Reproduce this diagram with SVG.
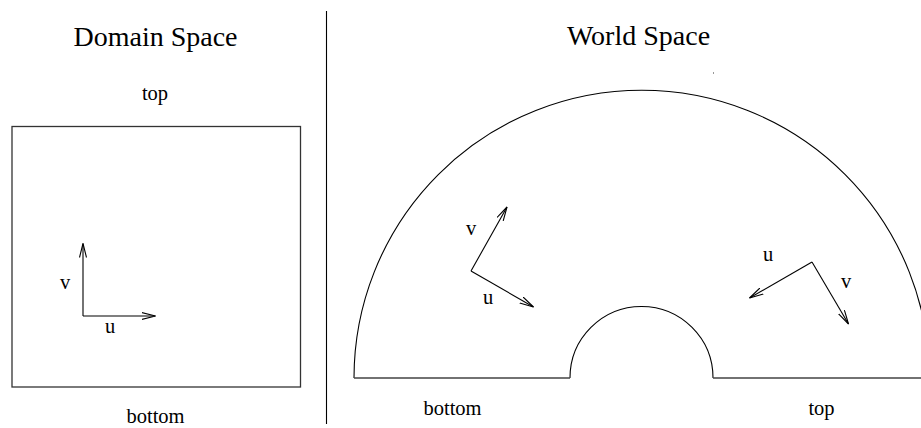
<svg xmlns="http://www.w3.org/2000/svg" width="921" height="428" viewBox="0 0 921 428">
<defs>
<style>
.ln{fill:none;stroke:#000;stroke-width:1.1}
.box{fill:none;stroke:#333;stroke-width:1.3}
.base{fill:none;stroke:#444;stroke-width:1.5}
.ar{fill:none;stroke:#000;stroke-width:1.1;marker-end:url(#ah)}
text{font-family:'Liberation Serif','Times New Roman',serif;fill:#000}
.title{font-size:28px;text-anchor:middle}
.lab{font-size:20.5px}
.mid{text-anchor:middle}
</style>
<marker id="ah" viewBox="0 0 15 8" refX="14" refY="4" markerWidth="15" markerHeight="8" markerUnits="userSpaceOnUse" orient="auto">
<path d="M0,0.5 L14,4 L0,7.5" fill="none" stroke="#000" stroke-width="1.1"/>
</marker>
</defs>
<g id="divider"><line class="ln" x1="326.5" y1="11" x2="326.5" y2="424"/></g>
<g id="domain">
<text class="title" x="155.5" y="46">Domain Space</text>
<text class="lab mid" x="155" y="100">top</text>
<rect class="box" x="12" y="126.5" width="288.5" height="260.5"/>
<text class="lab mid" x="155.5" y="423">bottom</text>
</g>
<g id="world">
<text class="title" x="638.5" y="45">World Space</text>
<path class="ln" d="M354,378 A287.5 287.5 0 0 1 929.5,378"/>
<path class="ln" d="M570,378 A71.5 71.5 0 0 1 713,378"/>
<path class="base" d="M354,378 H570 M713,378 H921"/>
<text class="lab mid" x="452.5" y="415">bottom</text>
<text class="lab mid" x="821.5" y="415">top</text>
<rect x="713" y="72" width="1" height="2" fill="#999"/>
</g>
<g id="connectors">
<line class="ar" x1="83" y1="316" x2="83" y2="243.5"/>
<line class="ar" x1="83" y1="316" x2="155.5" y2="316"/>
<line class="ar" x1="471" y1="271" x2="507" y2="207"/>
<line class="ar" x1="471" y1="271" x2="533.5" y2="307"/>
<line class="ar" x1="812" y1="262" x2="749.5" y2="298"/>
<line class="ar" x1="812" y1="262" x2="848.5" y2="324"/>
</g>
<g id="labels">
<text class="lab" x="60" y="289">v</text>
<text class="lab" x="105" y="333">u</text>
<text class="lab" x="466" y="235">v</text>
<text class="lab" x="483" y="304">u</text>
<text class="lab" x="763" y="261">u</text>
<text class="lab" x="841" y="288">v</text>
</g>
</svg>
